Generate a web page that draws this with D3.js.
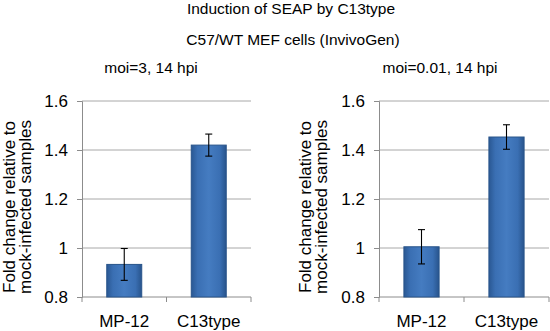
<!DOCTYPE html>
<html>
<head>
<meta charset="utf-8">
<script src="https://cdn.jsdelivr.net/npm/d3@7"></script>
<style>
  body { margin: 0; background: #fff; }
  text { font-family: "Liberation Sans", Arial, sans-serif; fill: #000; }
</style>
</head>
<body>
<svg width="550" height="331"></svg>
<script>
const categories = ["MP-12", "C13type"];
const panelTitles = ["moi=3, 14 hpi", "moi=0.01, 14 hpi"];
const moi3Values = [0.933, 1.42];
const moi3Errors = [0.065, 0.045];
const moi001Values = [1.005, 1.453];
const moi001Errors = [0.07, 0.05];
const yTicks = [0.8, 1, 1.2, 1.4, 1.6];

const width = 550;
const height = 331;
const plotTop = 101, plotBottom = 297;

const svg = d3.select("svg")
    .attr("width", width)
    .attr("height", height);

// bar gradient
const defs = svg.append("defs");
const grad = defs.append("linearGradient")
    .attr("id", "barFill")
    .attr("x1", "0").attr("x2", "1").attr("y1", "0").attr("y2", "0");
grad.append("stop").attr("offset", "0%").attr("stop-color", "#2a5893");
grad.append("stop").attr("offset", "18%").attr("stop-color", "#3a6fb3");
grad.append("stop").attr("offset", "50%").attr("stop-color", "#457cc1");
grad.append("stop").attr("offset", "82%").attr("stop-color", "#3a6fb3");
grad.append("stop").attr("offset", "100%").attr("stop-color", "#28548c");

svg.append("text")
    .attr("x", 291).attr("y", 14)
    .attr("text-anchor", "middle")
    .style("font-size", "15.5px")
    .text("Induction of SEAP by C13type");

svg.append("text")
    .attr("x", 293).attr("y", 45)
    .attr("text-anchor", "middle")
    .style("font-size", "15.5px")
    .text("C57/WT MEF cells (InvivoGen)");

const y = d3.scaleLinear()
    .domain([0.8, 1.6])
    .range([plotBottom, plotTop]);

function drawPanel(x0, x1, values, errors, title, titleX, yLabelX) {
    const x = d3.scaleBand()
        .domain(categories)
        .range([x0, x1])
        .paddingInner(0.586)
        .paddingOuter(0.293);

    const g = svg.append("g");

    // gridlines
    g.append("g")
        .selectAll("line")
        .data(yTicks.slice(1))
        .enter().append("line")
        .attr("x1", x0).attr("x2", x1)
        .attr("y1", d => y(d)).attr("y2", d => y(d))
        .attr("stroke", "#a8a8a8")
        .attr("stroke-width", 1);

    // y axis
    const ya = g.append("g")
        .attr("transform", `translate(${x0},0)`)
        .call(d3.axisLeft(y).tickValues(yTicks).tickSize(5).tickPadding(9).tickFormat(d => String(d)));
    ya.selectAll("path, line").attr("stroke", "#8c8c8c");
    ya.selectAll("text").style("font-size", "17px").style("font-family", "Liberation Sans, Arial, sans-serif");

    // x axis with ticks at band boundaries
    g.append("line")
        .attr("x1", x0).attr("x2", x1)
        .attr("y1", plotBottom).attr("y2", plotBottom)
        .attr("stroke", "#8c8c8c");
    const step = x.step();
    g.append("g")
        .selectAll("line")
        .data(d3.range(categories.length + 1))
        .enter().append("line")
        .attr("x1", i => x0 + i * step).attr("x2", i => x0 + i * step)
        .attr("y1", plotBottom).attr("y2", plotBottom + 5)
        .attr("stroke", "#8c8c8c");
    g.append("g")
        .selectAll("text")
        .data(categories)
        .enter().append("text")
        .attr("x", d => x(d) + x.bandwidth() / 2)
        .attr("y", 327)
        .attr("text-anchor", "middle")
        .style("font-size", "17px")
        .text(d => d);

    // bars
    g.append("g")
        .selectAll("rect")
        .data(categories)
        .enter().append("rect")
        .attr("x", d => x(d))
        .attr("y", (d, i) => y(values[i]))
        .attr("width", x.bandwidth())
        .attr("height", (d, i) => plotBottom - y(values[i]))
        .attr("fill", "url(#barFill)")
        .attr("stroke", "#28548a")
        .attr("stroke-width", 1);

    // error bars
    const eg = g.append("g").attr("stroke", "#000").attr("stroke-width", 1.1);
    categories.forEach((c, i) => {
        const cx = x(c) + x.bandwidth() / 2;
        const hi = y(values[i] + errors[i]), lo = y(values[i] - errors[i]);
        eg.append("line").attr("x1", cx).attr("x2", cx).attr("y1", hi).attr("y2", lo);
        eg.append("line").attr("x1", cx - 3.5).attr("x2", cx + 3.5).attr("y1", hi).attr("y2", hi);
        eg.append("line").attr("x1", cx - 3.5).attr("x2", cx + 3.5).attr("y1", lo).attr("y2", lo);
    });

    svg.append("text")
        .attr("x", titleX).attr("y", 73)
        .attr("text-anchor", "middle")
        .style("font-size", "15.5px")
        .text(title);

    const yl = svg.append("text")
        .attr("transform", `translate(${yLabelX},207) rotate(-90)`)
        .attr("text-anchor", "middle")
        .style("font-size", "17px");
    yl.append("tspan").attr("x", 0).attr("y", 0).text("Fold change relative to");
    yl.append("tspan").attr("x", 0).attr("y", 16).text("mock-infected samples");
}

drawPanel(82, 251, moi3Values, moi3Errors, panelTitles[0], 151, 14.5);
drawPanel(379, 549, moi001Values, moi001Errors, panelTitles[1], 440, 311);
</script>
</body>
</html>
